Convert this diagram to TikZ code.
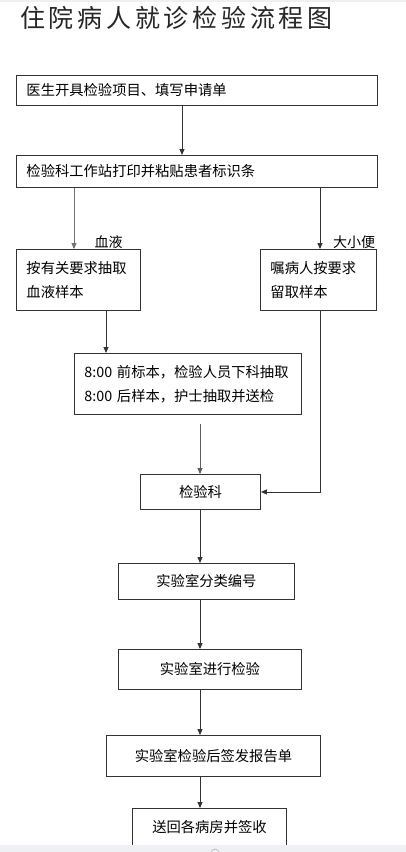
\documentclass[tikz,border=0pt]{standalone}
\usepackage{fontspec}
\setmainfont{Noto Sans CJK SC}
\newfontfamily\titlefont[LetterSpace=15]{Noto Sans CJK SC}
\usetikzlibrary{arrows.meta,calc}
\definecolor{ln}{HTML}{333333}
\definecolor{barc}{HTML}{EEF0F3}
\tikzset{
  boxl/.style={draw=ln, line width=0.9pt, rectangle, align=left, inner xsep=10pt, inner ysep=0pt,
    font=\fontsize{14.3}{24}\selectfont, anchor=north west},
  boxc/.style={draw=ln, line width=0.9pt, rectangle, align=center, inner sep=0pt,
    font=\fontsize{14.3}{24}\selectfont, anchor=north west},
  arr/.style={draw=ln, line width=0.9pt, -{Triangle[length=6pt,width=5pt]}},
  lbl/.style={font=\fontsize{14}{16}\selectfont, inner sep=0pt},
}
\begin{document}
\begin{tikzpicture}[x=1pt,y=-1pt]
\useasboundingbox (0,0) rectangle (406,852);
\fill[white] (0,0) rectangle (406,852);
\fill[barc] (0,0) rectangle (406,1.5);

\node[anchor=west, inner sep=0pt, font=\titlefont\fontsize{25}{28}\selectfont, text=black!85] (title) at (20,17.5) {住院病人就诊检验流程图};

\node[boxl, text width=341pt, minimum height=30pt] (b1) at (16,75) {医生开具检验项目、填写申请单};
\node[boxl, text width=341pt, minimum height=32pt] (b2) at (16,155) {检验科工作站打印并粘贴患者标识条};
\node[boxl, text width=104pt, minimum height=61pt] (b3) at (16,249) {按有关要求抽取\\血液样本};
\node[boxl, text width=96pt, minimum height=61pt] (b4) at (260,249) {嘱病人按要求\\留取样本};
\node[boxl, text width=207pt, minimum height=61pt] (b5) at (74,353) {8:00~前标本，检验人员下科抽取\\8:00~后样本，护士抽取并送检};
\node[boxc, minimum width=120pt, minimum height=35pt] (b6) at (140,474) {检验科};
\node[boxc, minimum width=176pt, minimum height=36pt] (b7) at (118,563) {实验室分类编号};
\node[boxc, minimum width=183pt, minimum height=40pt] (b8) at (118,649) {实验室进行检验};
\node[boxc, minimum width=214pt, minimum height=41pt] (b9) at (106,735) {实验室检验后签发报告单};
\node[boxc, minimum width=154pt, minimum height=38pt] (b10) at (132,808) {送回各病房并签收};

\node[lbl] (l1) at (108.5,242) {血液};
\node[lbl] (l2) at (354,242) {大小便};

\coordinate (x182) at (182,0);
\coordinate (x74) at (74,0);
\coordinate (x320) at (320,0);
\coordinate (x106) at (106,0);
\coordinate (x200) at (200,0);

\draw[arr] (b1.south -| x182) -- (b2.north -| x182);
\draw[arr, draw=ln!70] (b2.south -| x74) -- (b3.north -| x74);
\draw[arr] (b2.south -| x320) -- (b4.north -| x320);
\draw[arr] (b3.south -| x106) -- (b5.north -| x106);
\draw[arr, draw=ln!80, shorten <=9pt] (b5.south -| x200) -- (b6.north -| x200);
\draw[arr] (b4.south -| x320) |- (b6.east);
\draw[arr] (b6.south -| x200) -- (b7.north -| x200);
\draw[arr] (b7.south -| x200) -- (b8.north -| x200);
\draw[arr] (b8.south -| x200) -- (b9.north -| x200);
\draw[arr] (b9.south -| x200) -- (b10.north -| x200);

\fill[barc] (0,845) rectangle (406,852);
\draw[gray!60, line width=0.6pt] (215,853) circle (4);
\end{tikzpicture}
\end{document}
